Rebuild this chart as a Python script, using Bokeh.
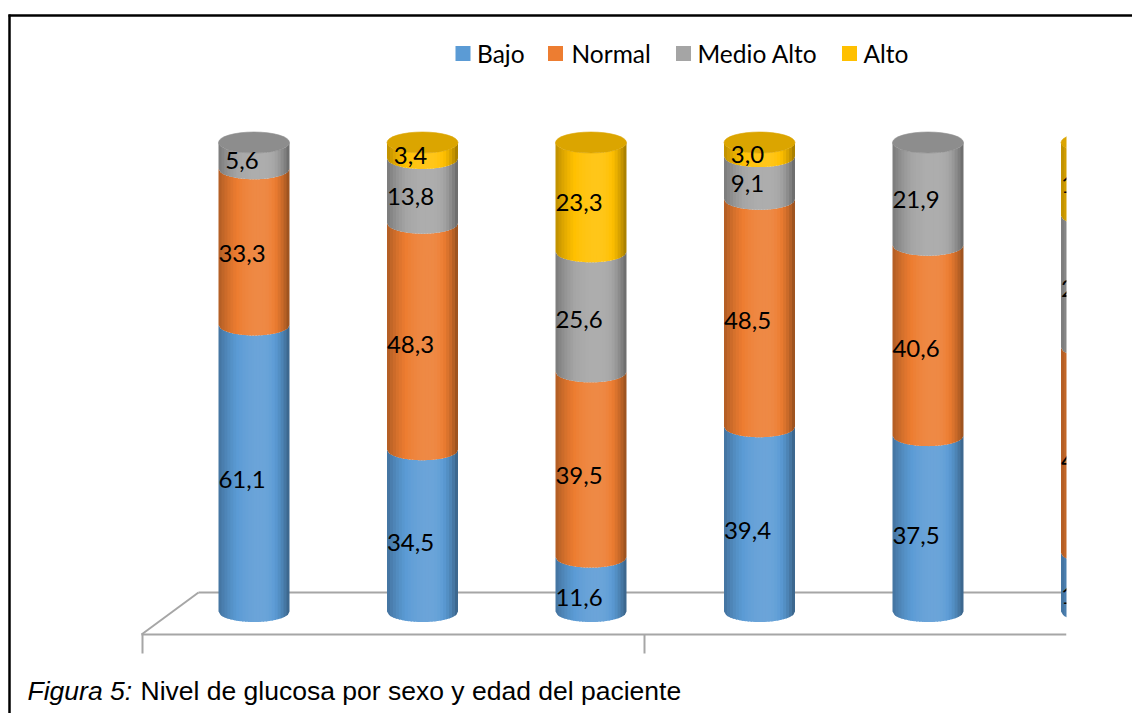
import numpy as np
from bokeh.plotting import figure
from bokeh.models import Range1d
from bokeh.core.properties import value
from bokeh.embed import file_html
from bokeh.resources import INLINE

# ---------------- data ----------------
groups = ["G1", "G2", "G3", "G4", "G5", "G6"]
series = ["Bajo", "Normal", "Medio Alto", "Alto"]
bajo = [61.1, 34.5, 11.6, 39.4, 37.5, 12.5]
normal = [33.3, 48.3, 39.5, 48.5, 40.6, 43.8]
medio_alto = [5.6, 13.8, 25.6, 9.1, 21.9, 28.1]
alto = [0.0, 3.4, 23.3, 3.0, 0.0, 15.6]
colors = ["#5B9BD5", "#ED7D31", "#A5A5A5", "#FFC000"]
caption_italic = "Figura 5:"
caption_text = "Nivel de glucosa por sexo y edad del paciente"

# ---------------- geometry ----------------
W, H = 1132, 713
X0, DX = 253.5, 168.5      # px of first bar center, px per category
Y0, SY = 611.0, 4.69       # px of y=0 (from top), px per percent


def X(px):
    return (px - X0) / DX


def Y(py):
    return (Y0 - py) / SY


def hex2rgb(h):
    h = h.lstrip("#")
    return [int(h[i:i + 2], 16) for i in (0, 2, 4)]


def shade(h, f):
    r = np.array(hex2rgb(h), dtype=float)
    if f <= 1:
        r = r * f
    else:
        r = r + (255 - r) * (f - 1)
    r = np.clip(r, 0, 255).astype(int)
    return "#%02x%02x%02x" % tuple(r)


def fshade(u, p=0.2, fmax=1.1, fl=0.74, fr=0.62):
    if u < p:
        t = (p - u) / (1 + p)
        return fmax - (fmax - fl) * t ** 2.2
    t = (u - p) / (1 - p)
    return fmax - (fmax - fr) * t ** 2.2


p = figure(width=W, height=H, x_range=Range1d(X(0), X(W)), y_range=Range1d(Y(H), Y(0)),
           output_backend="svg", toolbar_location=None, min_border=0,
           x_axis_type=None, y_axis_type=None, outline_line_color=None,
           background_fill_color="white", border_fill_color="white")
p.grid.visible = False

# ---------------- floor ----------------
floor_col = "#a6a6a6"
p.line([X(198), X(1066)], [Y(592), Y(592)], line_color=floor_col, line_width=2)
p.line([X(141), X(198)], [Y(634), Y(592)], line_color=floor_col, line_width=2)
p.line([X(141), X(1066)], [Y(634), Y(634)], line_color=floor_col, line_width=2)
p.segment(x0=[X(142), X(644)], y0=[Y(634), Y(634)], x1=[X(142), X(644)], y1=[Y(653), Y(653)],
          line_color=floor_col, line_width=2)

# ---------------- cylinders ----------------
r = 35.5 / DX
h = 10.5 / SY
NS = 24
uedges = np.linspace(-1, 1, NS + 1)
ov = 1.2 / 35.5   # small overlap between stripes (in u units)
vals = [bajo, normal, medio_alto, alto]


def arc(u):
    return np.sqrt(max(0.0, 1 - u ** 2))


pxs, pys, pcols = [], [], []
caps_x, caps_y, caps_c = [], [], []
lab_x, lab_y, lab_t = [], [], []
for i in range(len(groups)):
    base = 0.0
    top_col = None
    for j in range(len(series)):
        v = vals[j][i]
        if v <= 0:
            continue
        b, t = base, base + v
        for k in range(NS):
            ul = uedges[k]
            ur = min(1.0, uedges[k + 1] + (ov if k < NS - 1 else 0))
            um = (ul + ur) / 2
            us = [ul, um, ur]
            xs = [i + u * r for u in us]
            bot = [b - h * arc(u) for u in us]
            top = [t - h * arc(u) for u in us]
            pxs.append(xs + xs[::-1])
            pys.append(bot + top[::-1])
            pcols.append(shade(colors[j], fshade((uedges[k] + uedges[k + 1]) / 2)))
        c = (b + t) / 2
        lab_x.append(i - 12 / DX)
        lab_y.append(c - (13.5 - 0.0873 * c) / SY)
        lab_t.append(f"{v:.1f}".replace(".", ","))
        base = t
        top_col = colors[j]
    caps_x.append(i)
    caps_y.append(base)
    caps_c.append(shade(top_col, 0.86))

p.patches(xs=pxs, ys=pys, fill_color=pcols, line_color=None)
p.ellipse(x=caps_x, y=caps_y, width=2 * r, height=2 * h, fill_color=caps_c,
          line_color=caps_c, line_width=0.6)

p.text(x=lab_x, y=lab_y, text=lab_t, text_align="center", text_baseline="middle",
       text_font=value("Lato"), text_font_size=value("24px"), text_color="#000000")

# clip at right edge of the plot area
p.quad(left=[X(1066)], right=[X(W + 5)], bottom=[Y(H + 5)], top=[Y(18)],
       fill_color="white", line_color=None)

# ---------------- legend ----------------
sq_px = [462.5, 555.0, 683.0, 849.0]
tx_px = [476.5, 571.0, 697.0, 863.0]
p.rect(x=[X(v) for v in sq_px], y=[Y(53)] * 4, width=15, height=15,
       width_units="screen", height_units="screen", fill_color=colors, line_color=None)
p.text(x=[X(v) for v in tx_px], y=[Y(52.5)] * 4, text=series, text_align="left",
       text_baseline="middle", text_font=value("Lato"), text_font_size=value("24.5px"),
       text_color="#000000")

# ---------------- caption ----------------
p.text(x=[X(27)], y=[Y(690)], text=[caption_italic], text_align="left",
       text_baseline="alphabetic", text_font=value("Liberation Sans"),
       text_font_style="italic", text_font_size=value("26.5px"), text_color="#000000")
p.text(x=[X(140)], y=[Y(690)], text=[caption_text], text_align="left",
       text_baseline="alphabetic", text_font=value("Liberation Sans"),
       text_font_size=value("26.5px"), text_color="#000000")

# ---------------- border ----------------
p.line([X(8), X(W + 2)], [Y(15), Y(15)], line_color="black", line_width=2.5)
p.line([X(9), X(9)], [Y(14), Y(H + 2)], line_color="black", line_width=2.5)

open("out.html", "w").write(file_html(p, INLINE))
